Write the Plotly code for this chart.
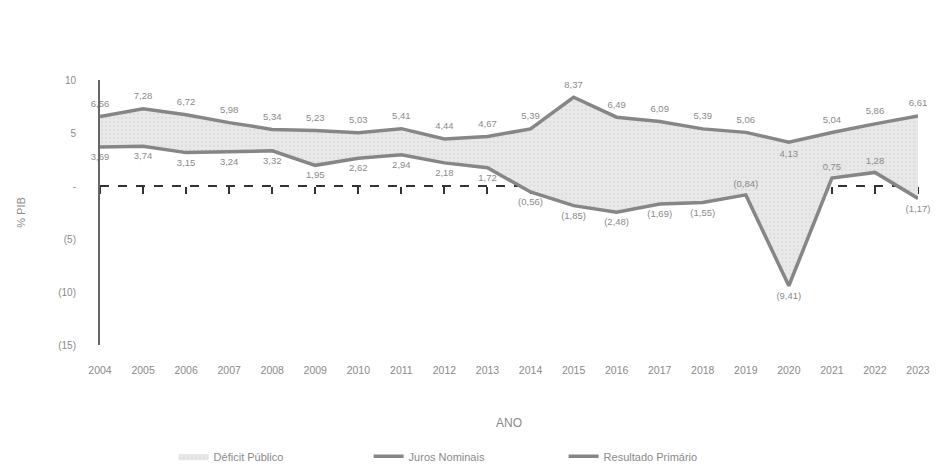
import plotly.graph_objects as go

anos = [str(a) for a in range(2004, 2024)]
juros_nominais = [6.56, 7.28, 6.72, 5.98, 5.34, 5.23, 5.03, 5.41, 4.44, 4.67,
                  5.39, 8.37, 6.49, 6.09, 5.39, 5.06, 4.13, 5.04, 5.86, 6.61]
resultado_primario = [3.69, 3.74, 3.15, 3.24, 3.32, 1.95, 2.62, 2.94, 2.18, 1.72,
                      -0.56, -1.85, -2.48, -1.69, -1.55, -0.84, -9.41, 0.75, 1.28, -1.17]
y_ticks = [10, 5, 0, -5, -10, -15]
y_tick_text = ["10", "5", "-", "(5)", "(10)", "(15)"]

# label placement (years whose label sits on the other side of the line)
juros_labels_below = ["2020"]
primario_labels_above = ["2019", "2021", "2022"]


def fmt(v):
    s = f"{abs(v):.2f}".replace(".", ",")
    return f"({s})" if v < 0 else s


GRAY_LINE = "#868686"
GRAY_TEXT = "#8a8a8a"
FONT = "Liberation Sans"
CLEAR = "rgba(0,0,0,0)"

fig = go.Figure()

# invisible base for the fill
fig.add_trace(go.Scatter(
    x=anos, y=resultado_primario, mode="lines",
    line=dict(width=0, color=CLEAR),
    showlegend=False, hoverinfo="skip"))
# Déficit público = área entre as duas séries
fig.add_trace(go.Scatter(
    x=anos, y=juros_nominais, mode="lines", name="Déficit Público",
    line=dict(width=0, color=CLEAR),
    fill="tonexty", fillcolor="#e6e6e6",
    fillpattern=dict(shape=".", bgcolor="#e9e9e9", fgcolor="#cfcfcf",
                     size=4, solidity=0.25),
    hoverinfo="skip"))
fig.add_trace(go.Scatter(
    x=anos, y=juros_nominais, mode="lines+markers+text", name="Juros Nominais",
    line=dict(width=3.5, color=GRAY_LINE),
    marker=dict(size=10, color=CLEAR, line=dict(width=0)),
    text=[fmt(v) for v in juros_nominais],
    textposition=["bottom center" if a in juros_labels_below else "top center" for a in anos],
    textfont=dict(size=9.5, color=GRAY_TEXT, family=FONT), cliponaxis=False))
fig.add_trace(go.Scatter(
    x=anos, y=resultado_primario, mode="lines+markers+text", name="Resultado Primário",
    line=dict(width=3.5, color=GRAY_LINE),
    marker=dict(size=8, color=CLEAR, line=dict(width=0)),
    text=[fmt(v) for v in resultado_primario],
    textposition=["top center" if a in primario_labels_above else "bottom center" for a in anos],
    textfont=dict(size=9.5, color=GRAY_TEXT, family=FONT), cliponaxis=False))
# empty trace so the zero-axis tick marks are rendered
fig.add_trace(go.Scatter(x=[], y=[], xaxis="x2", showlegend=False, hoverinfo="skip"))

# dashed zero line (drawn beneath the shaded area)
fig.add_shape(type="line", xref="x", yref="y", x0=0, x1=len(anos) - 1, y0=0, y1=0,
              line=dict(color="#333333", width=2, dash="dash"), layer="below")

ymin, ymax = -15, 10
fig.update_layout(
    width=942, height=471,
    margin=dict(l=92, r=32, t=72, b=134, autoexpand=False),
    paper_bgcolor="white", plot_bgcolor="white",
    font=dict(family=FONT, size=10, color=GRAY_TEXT),
    xaxis=dict(type="category", range=[0, len(anos) - 1], showgrid=False,
               showline=False, zeroline=False, ticks="", ticklabelstandoff=17,
               automargin=False,
               tickfont=dict(size=10.5, color=GRAY_TEXT),
               title=dict(text="ANO", font=dict(size=12, color=GRAY_TEXT), standoff=44)),
    xaxis2=dict(overlaying="x", anchor="free", position=(0 - ymin) / (ymax - ymin),
                type="linear", range=[0, len(anos) - 1], tickvals=list(range(len(anos))),
                showticklabels=False, ticks="outside", ticklen=7, tickwidth=2,
                tickcolor="#333333", showline=False, showgrid=False, zeroline=False,
                layer="below traces"),
    yaxis=dict(range=[ymin, ymax], tickvals=y_ticks, ticktext=y_tick_text,
               showgrid=False, zeroline=False, showline=True, linecolor="#666666",
               linewidth=2, ticks="", ticklabelstandoff=20, automargin=False,
               tickfont=dict(size=10, color=GRAY_TEXT),
               title=dict(text="% PIB", font=dict(size=11, color=GRAY_TEXT), standoff=30)),
    legend=dict(orientation="h", x=0.09, xanchor="left", y=-0.365, yanchor="top",
                font=dict(size=11, color=GRAY_TEXT),
                entrywidth=150, entrywidthmode="pixels", traceorder="normal"),
    showlegend=True,
)

fig.write_html("out.html")
